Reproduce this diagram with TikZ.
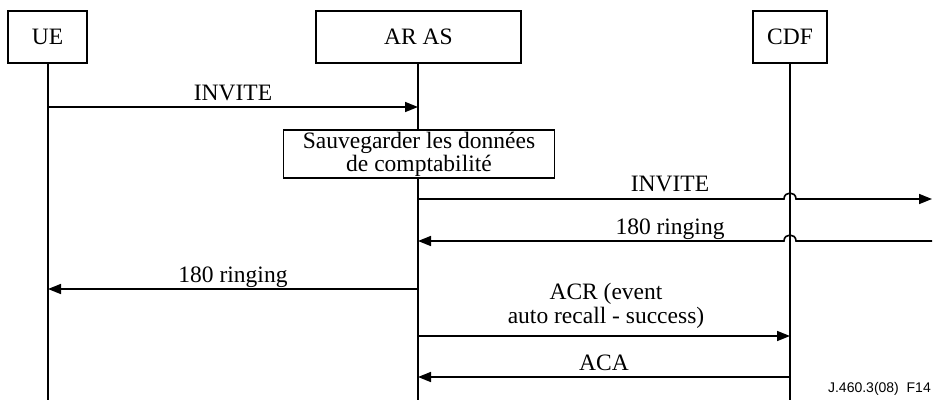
\documentclass[tikz,border=0pt]{standalone}
\usepackage{fontspec}
\setmainfont{Liberation Serif}
\newfontfamily\labelsans{Liberation Sans}
\usetikzlibrary{calc,arrows.meta}
\begin{document}
\begin{tikzpicture}[x=1pt,y=-1pt,
  every node/.style={font=\fontsize{23.5}{24}\selectfont, inner sep=0pt},
  entity/.style={draw, line width=1.6pt, fill=white, minimum height=52pt, anchor=north},
  lifeline/.style={line width=2.8pt},
  msg/.style={line width=1.6pt, -{Triangle[length=13pt,width=10pt]}},
  msglbl/.style={anchor=base, align=center},
  actionbox/.style={draw, line width=1.6pt, fill=white, align=center, minimum width=271pt, minimum height=48pt, font=\fontsize{23.5}{23}\selectfont}]
\useasboundingbox (0,0) rectangle (935,400);

% lifelines
\coordinate (ueTop) at (48,62);  \coordinate (ueBot) at (48,400);
\coordinate (asTop) at (418,62); \coordinate (asBot) at (418,400);
\coordinate (cdfTop) at (790,62); \coordinate (cdfBot) at (790,400);
\draw[lifeline] (ueTop) -- (ueBot);
\draw[lifeline] (asTop) -- (asBot);
\draw[lifeline] (cdfTop) -- (cdfBot);

% entities
\node[entity, minimum width=79pt] (ue) at (47.5,10) {UE};
\node[entity, minimum width=205pt] (aras) at (418.5,10) {AR AS};
\node[entity, minimum width=74pt] (cdf) at (790,10) {CDF};

% message anchor points
\coordinate (ue1) at (48,107);  \coordinate (as1) at (418,107);
\coordinate (as3) at (418,199); \coordinate (cdf3) at (790,199); \coordinate (out3) at (932,199);
\coordinate (as4) at (418,241); \coordinate (cdf4) at (790,241); \coordinate (in4) at (932,241);
\coordinate (as5) at (418,289); \coordinate (ue5) at (48,289);
\coordinate (as6) at (418,336); \coordinate (cdf6) at (790,336);
\coordinate (as7) at (418,377); \coordinate (cdf7) at (790,377);

% INVITE from UE
\draw[msg] (ue1) -- (as1);
\node[msglbl] (l1) at (233,100) {INVITE};

% local action
\node[actionbox] (save) at (419,154) {Sauvegarder les données\\de comptabilité};

% INVITE onwards, hopping over the CDF lifeline
\draw[msg] (as3) -- ($(cdf3)+(-6,0)$) .. controls ($(cdf3)+(-6,-8)$) and ($(cdf3)+(6,-8)$) .. ($(cdf3)+(6,0)$) -- (out3);
\node[msglbl] (l3) at (670,191) {INVITE};

% 180 ringing back, hopping over the CDF lifeline
\draw[msg] (in4) -- ($(cdf4)+(6,0)$) .. controls ($(cdf4)+(6,-8)$) and ($(cdf4)+(-6,-8)$) .. ($(cdf4)+(-6,0)$) -- (as4);
\node[msglbl] (l4) at (670,234) {180 ringing};

% 180 ringing to UE
\draw[msg] (as5) -- (ue5);
\node[msglbl] (l5) at (233,282) {180 ringing};

% accounting request / answer
\draw[msg] (as6) -- (cdf6);
\node[msglbl] (l6) at (606,323) {ACR (event\\auto recall - success)};
\draw[msg] (cdf7) -- (as7);
\node[msglbl] (l7) at (604,370) {ACA};

% figure reference
\node[anchor=base east, font=\labelsans\fontsize{14}{16}\selectfont] (ref) at (931,392) {J.460.3(08)\ \ F14};
\end{tikzpicture}
\end{document}
